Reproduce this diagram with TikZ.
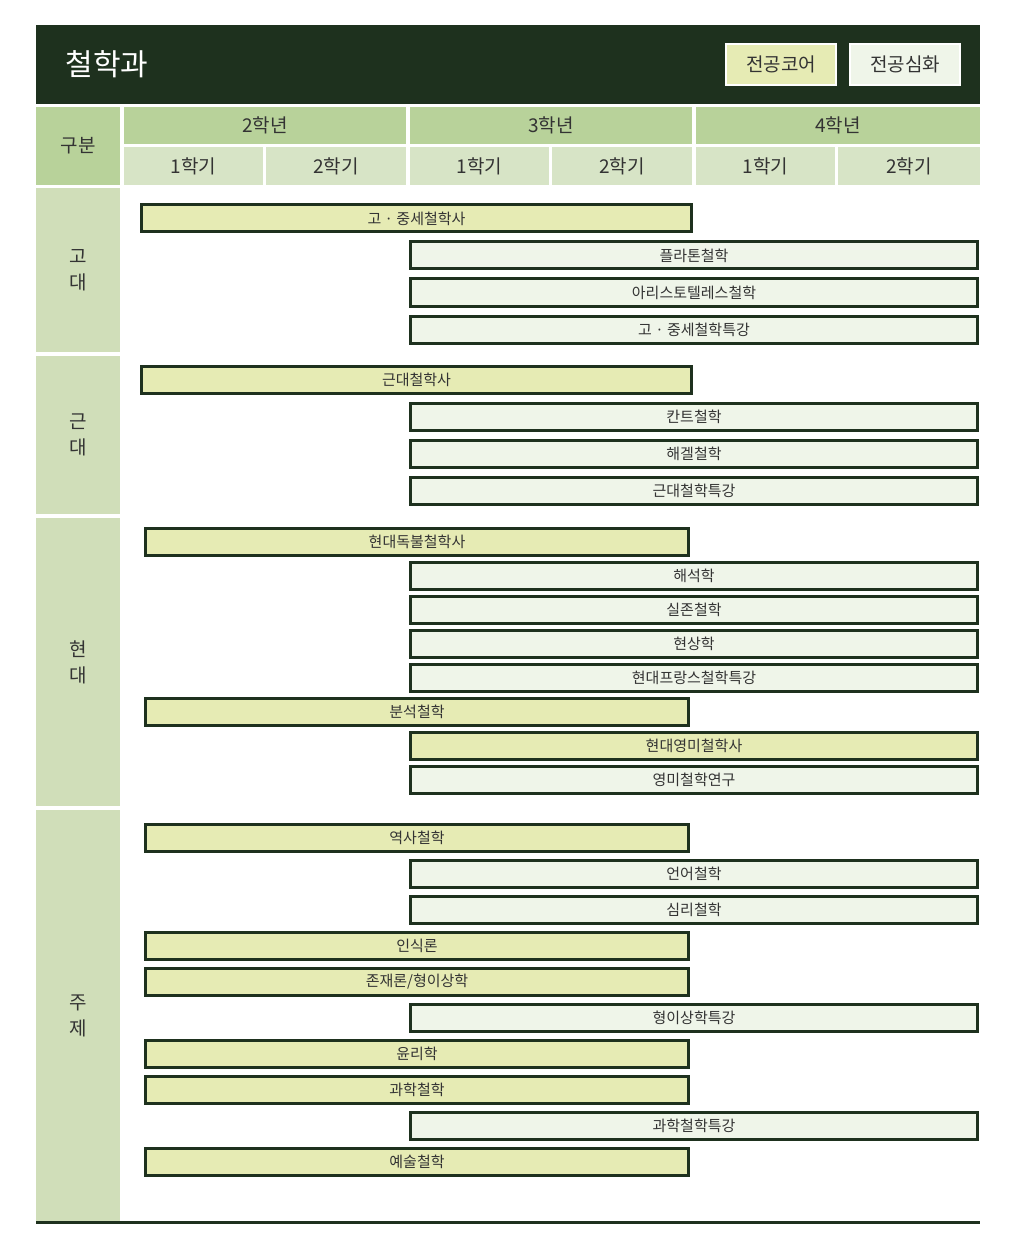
\documentclass[tikz,border=0pt]{standalone}
\usepackage{fontspec}
\setmainfont{Noto Sans CJK KR}
\usetikzlibrary{positioning}
\definecolor{dkgreen}{HTML}{1E311E}
\definecolor{corefill}{HTML}{E6EBB4}
\definecolor{advfill}{HTML}{EFF5E9}
\definecolor{yearfill}{HTML}{B8D29A}
\definecolor{semfill}{HTML}{D7E4C6}
\definecolor{catfill}{HTML}{D0DEB9}
\definecolor{txtgray}{HTML}{333333}
\tikzset{
	course/.style={draw=dkgreen, line width=3pt, minimum height=27pt, inner sep=0pt, text=txtgray, font=\fontsize{15}{18}\selectfont},
	core/.style={course, fill=corefill, minimum width=550pt},
	coreb/.style={course, fill=corefill, minimum width=543pt},
	adv/.style={course, fill=advfill, minimum width=567pt},
	headcell/.style={inner sep=0pt, text=txtgray, font=\fontsize{19}{22}\selectfont},
	yearcell/.style={headcell, fill=yearfill, minimum height=37pt, minimum width=282pt},
	semcell/.style={headcell, fill=semfill, minimum height=38pt, minimum width=140pt},
	catcell/.style={headcell, fill=catfill, minimum width=84pt, align=center, font=\fontsize{19}{26}\selectfont},
	legend/.style={draw=white, line width=2pt, minimum width=110pt, minimum height=41pt, inner sep=0pt, text=txtgray, font=\fontsize{19}{22}\selectfont}
}

\begin{document}
\begin{tikzpicture}[x=1pt, y=-1pt]
	\useasboundingbox (0,0) rectangle (1010,1246);
	% title bar
	\fill[dkgreen] (36,25) rectangle (980,104);
	\node[text=white, anchor=west, font=\fontsize{30}{33}\selectfont] (title) at (62,64) {철학과};
	\node[legend, fill=corefill] (lgcore) at (781,64.5) {전공코어};
	\node[legend, fill=advfill, right=12pt of lgcore] (lgadv) {전공심화};
	% header
	\node[headcell, fill=yearfill, minimum width=84pt, minimum height=78pt] (gubun) at (78,146) {구분};
	\node[yearcell] (y2) at (265,125.5) {2학년};
	\node[yearcell] (y3) at (551,125.5) {3학년};
	\node[yearcell, minimum width=284pt] (y4) at (838,125.5) {4학년};
	\node[semcell, minimum width=139pt] (s21) at (193.5,166) {1학기};
	\node[semcell] (s22) at (336,166) {2학기};
	\node[semcell, minimum width=139pt] (s31) at (479.5,166) {1학기};
	\node[semcell] (s32) at (622,166) {2학기};
	\node[semcell, minimum width=139pt] (s41) at (765.5,166) {1학기};
	\node[semcell, minimum width=142pt] (s42) at (909,166) {2학기};
	% categories
	\node[catcell, minimum height=164pt] (ancient) at (78,270) {고\\대};
	\node[catcell, minimum height=158pt] (modern) at (78,435) {근\\대};
	\node[catcell, minimum height=288pt] (contemp) at (78,662) {현\\대};
	\node[catcell, minimum height=412pt] (topic) at (78,1016) {주\\제};
	% ancient
	\node[core] (a1) at (416.5,218.5) {고 · 중세철학사};
	\node[adv] (a2) at (694,255.5) {플라톤철학};
	\node[adv] (a3) at (694,292.5) {아리스토텔레스철학};
	\node[adv] (a4) at (694,329.5) {고 · 중세철학특강};
	% modern
	\node[core] (m1) at (416.5,379.5) {근대철학사};
	\node[adv] (m2) at (694,416.5) {칸트철학};
	\node[adv] (m3) at (694,453.5) {해겔철학};
	\node[adv] (m4) at (694,490.5) {근대철학특강};
	% contemporary
	\node[coreb] (c1) at (417,541.5) {현대독불철학사};
	\node[adv] (c2) at (694,575.5) {해석학};
	\node[adv] (c3) at (694,609.5) {실존철학};
	\node[adv] (c4) at (694,643.5) {현상학};
	\node[adv] (c5) at (694,677.5) {현대프랑스철학특강};
	\node[coreb] (c6) at (417,711.5) {분석철학};
	\node[adv, fill=corefill] (c7) at (694,745.5) {현대영미철학사};
	\node[adv] (c8) at (694,779.5) {영미철학연구};
	% topics
	\node[coreb] (t1) at (417,837.5) {역사철학};
	\node[adv] (t2) at (694,873.5) {언어철학};
	\node[adv] (t3) at (694,909.5) {심리철학};
	\node[coreb] (t4) at (417,945.5) {인식론};
	\node[coreb] (t5) at (417,981.5) {존재론/형이상학};
	\node[adv] (t6) at (694,1017.5) {형이상학특강};
	\node[coreb] (t7) at (417,1053.5) {윤리학};
	\node[coreb] (t8) at (417,1089.5) {과학철학};
	\node[adv] (t9) at (694,1125.5) {과학철학특강};
	\node[coreb] (t10) at (417,1161.5) {예술철학};
	% bottom rule
	\draw[dkgreen, line width=3pt] (36,1222.5) -- (980,1222.5);
\end{tikzpicture}
\end{document}
